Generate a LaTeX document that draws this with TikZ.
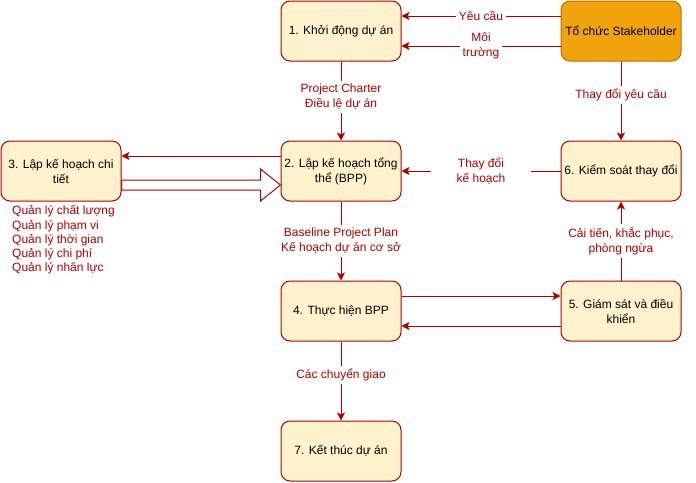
\documentclass[tikz,border=0pt]{standalone}
\usepackage{fontspec}
\setmainfont{Liberation Sans}
\usepackage{tikz}
\usetikzlibrary{arrows,arrows.meta,shapes,positioning}
\definecolor{pmred}{HTML}{B20000}
\definecolor{pmyellow}{HTML}{FFF2CC}
\definecolor{pmorange}{HTML}{F0A30A}
\definecolor{pmbrown}{HTML}{BD7000}
\tikzstyle{process} = [rectangle, rounded corners=9pt, minimum width=120pt, minimum height=60pt, text centered, align=center, draw=pmred, fill=pmyellow, line width=1pt, font=\fontsize{12}{15}\selectfont]
\tikzstyle{arrow} = [line width=1pt,-{Stealth[length=8pt,width=8pt,inset=2pt]},color=pmred]
\tikzstyle{lbl} = [fill=white, text=pmred, align=center, inner sep=3pt, font=\fontsize{12}{15}\selectfont]
\tikzstyle{hollow} = [draw=pmred, fill=white, line width=1pt, line join=miter]

\begin{document}
\begin{tikzpicture}
\useasboundingbox (0pt,1pt) rectangle (696pt,-481pt);
% Project phases
\node (phase1) [process] at (341pt,-30pt) {1. Khởi động dự án};
\node (stake) [process, right=159pt of phase1, fill=pmorange, draw=pmbrown] {Tổ chức Stakeholder};
\node (phase2) [process, below=79pt of phase1] {2. Lập kế hoạch tổng\\thể (BPP)};
\node (phase6) [process, below=79pt of stake] {6. Kiểm soát thay đổi};
\node (phase3) [process, left=159pt of phase2] {3. Lập kế hoạch chi\\tiết};
\node (phase4) [process, below=79pt of phase2] {4. Thực hiện BPP};
\node (phase5) [process, below=79pt of phase6] {5. Giám sát và điều\\khiển};
\node (phase7) [process, below=79pt of phase4] {7. Kết thúc dự án};

\node (tasks) [below right=4pt and 11.5pt of phase3.south west, anchor=north west, align=left, inner sep=0pt, text=pmred, font=\fontsize{12}{14.2}\selectfont] {
Quản lý chất lượng\\
Quản lý phạm vi\\
Quản lý thời gian\\
Quản lý chi phí\\
Quản lý nhân lực
};

% Flows
\draw[arrow] ([yshift=15pt]stake.west) -- node[lbl] {Yêu cầu} ([yshift=15pt]phase1.east);
\draw[arrow] ([yshift=-15pt]stake.west) -- node[lbl] {Môi\\trường} ([yshift=-15pt]phase1.east);
\draw[arrow] (phase1) -- node[lbl, pos=0.45] {Project Charter\\Điều lệ dự án} (phase2);
\draw[arrow] (stake) -- node[lbl, pos=0.42] {Thay đổi yêu cầu} (phase6);
\draw[arrow] (phase6) -- node[lbl, minimum width=100pt] {Thay đổi\\kế hoạch} (phase2);
\draw[arrow] ([yshift=15pt]phase2.west) -- ([yshift=15pt]phase3.east);
\draw[hollow] ([yshift=-9pt]phase3.east) -- ([xshift=-20pt,yshift=-9pt]phase2.west)
  -- ([xshift=-20pt,yshift=2pt]phase2.west) -- ([yshift=-14pt]phase2.west)
  -- ([xshift=-20pt,yshift=-30pt]phase2.west) -- ([xshift=-20pt,yshift=-19pt]phase2.west)
  -- ([yshift=-19pt]phase3.east) -- cycle;
\draw[arrow] (phase2) -- node[lbl] {Baseline Project Plan\\Kế hoạch dự án cơ sở} (phase4);
\draw[arrow] ([yshift=15pt]phase4.east) -- ([yshift=15pt]phase5.west);
\draw[arrow] ([yshift=-15pt]phase5.west) -- ([yshift=-15pt]phase4.east);
\draw[arrow] (phase5) -- node[lbl] {Cải tiến, khắc phục,\\phòng ngừa} (phase6);
\draw[arrow] (phase4) -- node[lbl, pos=0.42] {Các chuyển giao} (phase7);
\end{tikzpicture}
\end{document}
